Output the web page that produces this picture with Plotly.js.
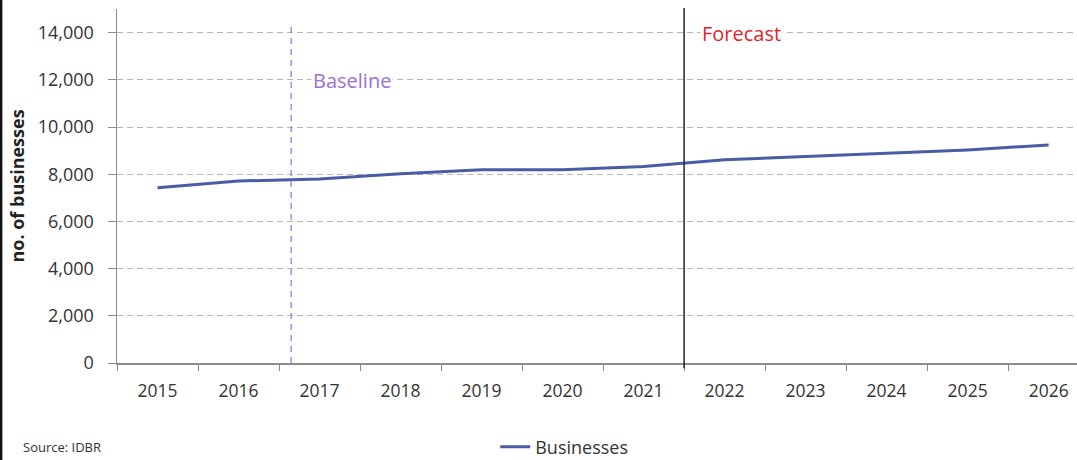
<!DOCTYPE html>
<html>
<head>
<meta charset="utf-8">
<script src="https://cdn.plot.ly/plotly-3.0.1.min.js"></script>
<style>
  html, body { margin: 0; padding: 0; background: #fff; }
  #chart { width: 1077px; height: 460px; }
</style>
</head>
<body>
<div id="chart"></div>
<script>
const years = ['2015','2016','2017','2018','2019','2020','2021','2022','2023','2024','2025','2026'];
const businesses = [7430, 7710, 7800, 8020, 8190, 8190, 8330, 8610, 8750, 8900, 9030, 9240];
const yTickVals = [0, 2000, 4000, 6000, 8000, 10000, 12000, 14000];
const seriesName = 'Businesses';
const baselineLabel = 'Baseline';
const forecastLabel = 'Forecast';
const sourceLabel = 'Source: IDBR';
const yTitle = 'no. of businesses';

const FONT = '"Open Sans", Lato, sans-serif';

const trace = {
  x: years,
  y: businesses,
  type: 'scatter',
  mode: 'lines',
  name: seriesName,
  line: { color: '#4a5ca6', width: 3 },
  showlegend: true
};

const layout = {
  width: 1077,
  height: 460,
  margin: { l: 117, r: 0, t: 9, b: 97, autoexpand: false },
  paper_bgcolor: '#ffffff',
  plot_bgcolor: '#ffffff',
  font: { family: FONT, color: '#404040', size: 16 },
  showlegend: true,
  legend: {
    orientation: 'h',
    x: 0.394, xanchor: 'left',
    yref: 'container',
    y: 0.028, yanchor: 'middle',
    font: { family: FONT, size: 18, color: '#333' },
    bgcolor: 'rgba(0,0,0,0)'
  },
  xaxis: {
    type: 'category',
    automargin: false,
    range: [-0.5, 11.35],
    showgrid: false,
    showline: true,
    linecolor: '#8c8c8c',
    linewidth: 1.5,
    ticks: 'outside',
    tickson: 'boundaries',
    ticklen: 6,
    tickcolor: '#8c8c8c',
    ticklabelstandoff: 11,
    tickfont: { family: FONT, size: 17.5, color: '#333' },
    zeroline: false,
    fixedrange: true
  },
  yaxis: {
    automargin: false,
    range: [0, 15000],
    tickvals: yTickVals,
    tickformat: ',d',
    showgrid: true,
    gridcolor: '#b5b5b5',
    griddash: '6px,4px',
    gridwidth: 1,
    showline: true,
    linecolor: '#8c8c8c',
    linewidth: 1.5,
    ticks: 'outside',
    ticklen: 8,
    tickcolor: '#8c8c8c',
    ticklabelstandoff: 10,
    tickfont: { family: FONT, size: 18, color: '#333' },
    zeroline: false,
    title: { text: yTitle, font: { family: FONT, size: 18, color: '#222', weight: 'bold' }, standoff: 8 },
    fixedrange: true
  },
  shapes: [
    {
      type: 'line', xref: 'x', yref: 'y',
      x0: 1.65, x1: 1.65, y0: 0, y1: 14450,
      line: { color: '#a58ddc', width: 1.5, dash: '6px,5px' }
    },
    {
      type: 'line', xref: 'x', yref: 'paper',
      x0: 6.5, x1: 6.5, y0: -0.015, y1: 1.003,
      line: { color: '#222222', width: 1.5 }
    },
    {
      type: 'line', xref: 'paper', yref: 'paper',
      x0: -0.121, x1: -0.121, y0: -0.28, y1: 1.03,
      line: { color: '#111111', width: 3 }
    }
  ],
  annotations: [
    {
      text: baselineLabel, xref: 'x', yref: 'y',
      x: 1.9, y: 11950, xanchor: 'left', yanchor: 'middle',
      showarrow: false, bgcolor: '#ffffff',
      font: { family: FONT, size: 20, color: '#9a72d4' }
    },
    {
      text: forecastLabel, xref: 'x', yref: 'y',
      x: 6.7, y: 13950, xanchor: 'left', yanchor: 'middle',
      showarrow: false, bgcolor: '#ffffff',
      font: { family: FONT, size: 20, color: '#e01f26' }
    },
    {
      text: sourceLabel, xref: 'paper', yref: 'paper',
      x: -0.1, y: -0.237, xanchor: 'left', yanchor: 'middle',
      showarrow: false,
      font: { family: FONT, size: 13, color: '#333' }
    }
  ]
};

Plotly.newPlot('chart', [trace], layout, { displayModeBar: false, staticPlot: true });
</script>
</body>
</html>
